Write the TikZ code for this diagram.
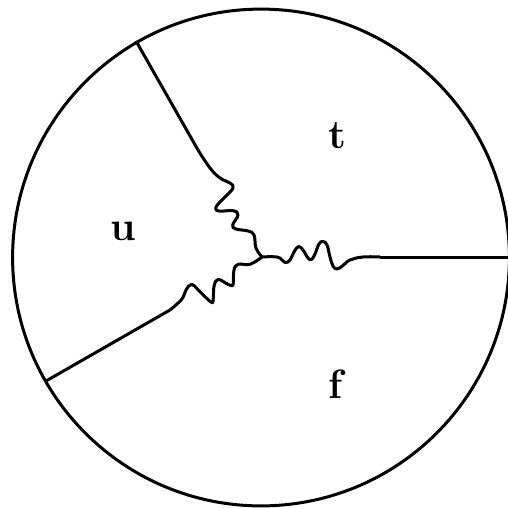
\documentclass[tikz,border=0pt]{standalone}
\tikzset{
  leg/.style={line width=3pt},
  gluon/.style={line width=3pt, line join=round, smooth, tension=0.7},
  lbl/.style={font=\bfseries\fontsize{41}{45}\selectfont}
}
\begin{document}
\begin{tikzpicture}[x=1pt,y=-1pt]
    \useasboundingbox (0,0) rectangle (508,508);
    \coordinate (center) at (261,257.5);
    \draw[leg] (center) circle (248.4);
    \coordinate (vtx) at (262,257);
    \coordinate (rimT) at (136,41);
    \coordinate (rimU) at (46,381);
    \coordinate (rimR) at (508,257);
    \coordinate (endT) at (198,150);
    \coordinate (endU) at (170,310);
    \coordinate (endR) at (380,257);
    % straight legs out to the rim
    \draw[leg] (rimT) -- (endT);
    \draw[leg] (rimU) -- (endU);
    \draw[leg] (rimR) -- (endR);
    % wavy parts, vertex to leg
    \draw[gluon] plot coordinates {(vtx) (256,248) (254,235) (248,231) (236,229) (232.7,225) (238,215)
        (233,210.7) (219,211) (216,207) (225,197) (233,188) (230,183) (220,178) (210,168) (endT)};
    \draw[gluon] plot coordinates {(vtx) (250,264.3) (238.3,264.3) (234,270) (233.3,283) (231.5,285.7) (225,282.7)
        (218.3,279.3) (214.3,285) (213.3,296.7) (212.5,302.7) (206.7,298.3) (198.3,290) (191.7,284.3)
        (186,290) (181.7,299.3) (endU)};
    \draw[gluon] plot coordinates {(vtx) (273,256.7) (280,258) (285,262.5) (290,260) (294,252) (298.5,246.5) (303,250)
        (308,258) (311.5,259.5) (315,254) (319,244) (323,241.5) (327,245) (330,257) (333,266) (337,269)
        (343,265.5) (350,260) (363,257) (endR)};
    \node[lbl] (labT) at (337,136) {t};
    \node[lbl] (labU) at (123,231) {u};
    \node[lbl] (labF) at (336,384) {f};
\end{tikzpicture}
\end{document}
